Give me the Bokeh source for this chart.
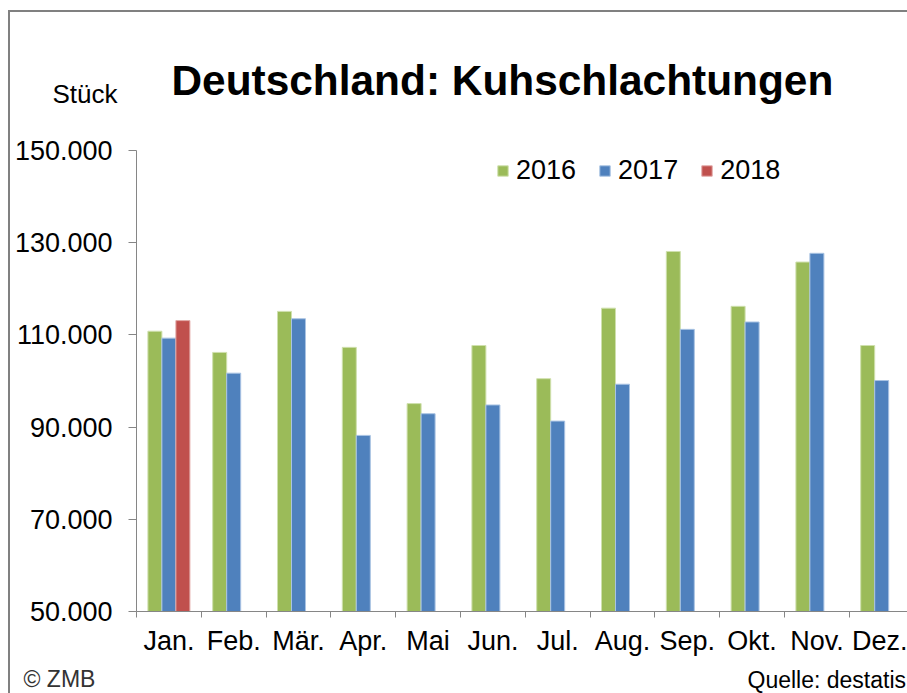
from bokeh.plotting import figure
from bokeh.models import Range1d, FixedTicker, Legend, LegendItem, Label, ColumnDataSource
from bokeh.embed import file_html
from bokeh.resources import INLINE
import numpy as np

# ---- data ----
months = ["Jan.", "Feb.", "Mär.", "Apr.", "Mai", "Jun.", "Jul.", "Aug.", "Sep.", "Okt.", "Nov.", "Dez."]
values_2016 = [110800, 106200, 115100, 107300, 95100, 107700, 100500, 115800, 128100, 116200, 125800, 107700]
values_2017 = [109300, 101700, 113500, 88200, 92900, 94800, 91300, 99300, 111200, 112800, 127700, 100100]
months_2018 = ["Jan."]
values_2018 = [113100]
y_ticks = [50000, 70000, 90000, 110000, 130000, 150000]
y_tick_labels = ["50.000", "70.000", "90.000", "110.000", "130.000", "150.000"]
series_names = ["2016", "2017", "2018"]
title_text = "Deutschland: Kuhschlachtungen"
unit_text = "Stück"
copyright_text = "© ZMB"
source_text = "Quelle: destatis"

# ---- layout constants (pixels) ----
FONT = "Liberation Sans"
GREEN, BLUE, RED = "#9BBB59", "#4F81BD", "#C0504D"
AXIS = "#868686"
FRAME_LINE = "#808080"
W, H = 907, 693            # canvas (plot frame covers the whole canvas)
AX_LEFT = 136              # canvas x of the value axis
AX_TOP, AX_BOTTOM = 150, 611   # canvas y of 150.000 and 50.000
CAT_PX = 64.8              # pixels per month
Y_MIN, Y_MAX = y_ticks[0], y_ticks[-1]
px_per_unit_y = (AX_BOTTOM - AX_TOP) / (Y_MAX - Y_MIN)

x_start = -AX_LEFT / CAT_PX
x_end = (W - AX_LEFT) / CAT_PX
y_end = Y_MAX + AX_TOP / px_per_unit_y
y_start = Y_MIN - (H - AX_BOTTOM) / px_per_unit_y

centers = [i + 0.5 for i in range(len(months))]
bw = 0.216
off = 0.216

src16 = ColumnDataSource(dict(x=np.array(centers) - off, top=values_2016))
src17 = ColumnDataSource(dict(x=np.array(centers), top=values_2017))
c18 = [centers[months.index(m)] for m in months_2018]
src18 = ColumnDataSource(dict(x=np.array(c18) + off, top=values_2018))

p = figure(width=W, height=H, output_backend="svg", toolbar_location=None,
           x_range=Range1d(x_start, x_end), y_range=Range1d(y_start, y_end),
           min_border_left=0, min_border_right=0, min_border_top=0, min_border_bottom=0)
p.background_fill_alpha = 0
p.border_fill_alpha = 0
p.styles = {"background": (f"linear-gradient({FRAME_LINE},{FRAME_LINE}) 8px 10px / 2px calc(100% - 10px) no-repeat, "
                           f"linear-gradient({FRAME_LINE},{FRAME_LINE}) 8px 10px / calc(100% - 8px) 2px no-repeat, #ffffff")}
p.outline_line_color = None
p.xgrid.visible = False
p.ygrid.visible = False

r16 = p.vbar(x="x", top="top", bottom=Y_MIN, width=bw, source=src16, fill_color=GREEN, line_color="#cfe0ad", line_width=1)
r17 = p.vbar(x="x", top="top", bottom=Y_MIN, width=bw, source=src17, fill_color=BLUE, line_color="#a9c3e3", line_width=1)
r18 = p.vbar(x="x", top="top", bottom=Y_MIN, width=bw, source=src18, fill_color=RED, line_color="#e2a9a7", line_width=1)

xa = p.xaxis[0]
xa.fixed_location = Y_MIN
xa.bounds = (0, len(months))
xa.ticker = FixedTicker(ticks=centers, minor_ticks=list(range(len(months) + 1)))
xa.major_label_overrides = {c: m for c, m in zip(centers, months)}
xa.major_tick_line_color = None
xa.major_tick_in = 0
xa.major_tick_out = 0
xa.minor_tick_in = 0
xa.minor_tick_out = 6
xa.minor_tick_line_color = AXIS
xa.axis_line_color = AXIS
xa.major_label_text_font = FONT
xa.major_label_text_font_size = "27px"
xa.major_label_text_color = "#000000"
xa.major_label_standoff = 8

ya = p.yaxis[0]
ya.fixed_location = 0
ya.bounds = (Y_MIN, Y_MAX)
ya.ticker = FixedTicker(ticks=y_ticks)
ya.major_label_overrides = {t: l for t, l in zip(y_ticks, y_tick_labels)}
ya.major_tick_in = 0
ya.major_tick_out = 8
ya.major_tick_line_color = AXIS
ya.minor_tick_line_color = None
ya.axis_line_color = AXIS
ya.major_label_text_font = FONT
ya.major_label_text_font_size = "27px"
ya.major_label_text_color = "#000000"
ya.major_label_standoff = 16

legend = Legend(items=[LegendItem(label=series_names[0], renderers=[r16]),
                       LegendItem(label=series_names[1], renderers=[r17]),
                       LegendItem(label=series_names[2], renderers=[r18])],
                orientation="horizontal", location=(496, 507),
                glyph_width=13, glyph_height=13, label_standoff=7, spacing=22,
                padding=0, margin=0, border_line_color=None, background_fill_alpha=0,
                label_text_font=FONT, label_text_font_size="27px", label_text_color="#000000")
p.add_layout(legend)


def add_text(txt, x, baseline_from_top, size, color="#000000", style="normal"):
    # the label anchor sits ~0.35 em above the glyph baseline
    y = H - (baseline_from_top - 0.3465 * size)
    p.add_layout(Label(x=x, y=y, x_units="screen", y_units="screen", text=txt,
                       text_font=FONT, text_font_size=f"{size}px", text_font_style=style,
                       text_color=color, text_baseline="alphabetic", text_align="left"))


add_text(title_text, 171, 95, 42.4, style="bold")
add_text(unit_text, 52, 103, 26)
add_text(copyright_text, 23, 686, 23, color="#333333")
add_text(source_text, 747, 687, 23)

open("out.html", "w").write(file_html(p, INLINE))
